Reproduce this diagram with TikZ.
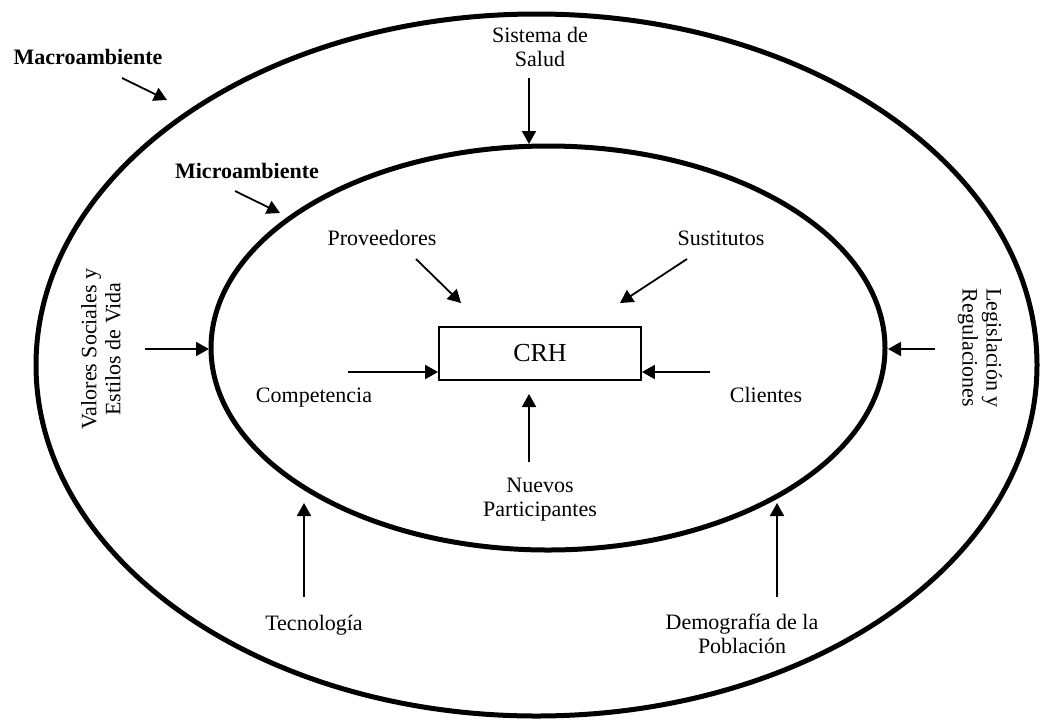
\documentclass[tikz,border=0pt]{standalone}
\usepackage{fontspec}
\setmainfont{Liberation Serif}
\usetikzlibrary{arrows.meta}
\begin{document}
\begin{tikzpicture}[x=1pt,y=-1pt,
  lbl/.style={font=\fontsize{22}{24}\selectfont, align=center, inner sep=0pt},
  boldlbl/.style={font=\fontsize{22}{24}\selectfont\bfseries, inner sep=0pt},
  arr/.style={line width=1.8pt, -{Triangle[length=13pt,width=14pt]}},
  ring/.style={line width=5pt},
  crhbox/.style={draw, line width=1.8pt, minimum width=202pt, minimum height=53pt, inner sep=0pt, font=\fontsize{26}{30}\selectfont}]
\useasboundingbox (0,0) rectangle (1041,724);
% ellipses
\draw[ring] (536.5,365) ellipse [x radius=500.5, y radius=351];
\draw[ring] (548,348) ellipse [x radius=337, y radius=202];
% labels (multi-line nodes: base = baseline of last line)
\node[boldlbl, anchor=base] (macro) at (88,64) {Macroambiente};
\node[boldlbl, anchor=base] (micro) at (247,178) {Microambiente};
\node[lbl, anchor=base] (salud) at (540,66) {Sistema de\\Salud};
\node[lbl, anchor=base] (prov) at (382,245) {Proveedores};
\node[lbl, anchor=base] (sust) at (721,245) {Sustitutos};
\node[lbl, anchor=base] (comp) at (314,402) {Competencia};
\node[lbl, anchor=base] (cli) at (766,402) {Clientes};
\node[crhbox] (crh) at (540,353.5) {CRH};
\node[lbl, anchor=base] (nuevos) at (540,516) {Nuevos\\Participantes};
\node[lbl, rotate=90] (valores) at (101,349) {Valores Sociales y\\Estilos de Vida};
\node[lbl, rotate=-90] (legis) at (980,348) {Legislación y\\Regulaciones};
\node[lbl, anchor=base] (tecno) at (314,630) {Tecnología};
\node[lbl, anchor=base] (demo) at (742,653) {Demografía de la\\Población};
% arrow end points
\coordinate (macroT) at (122,78);   \coordinate (macroH) at (167,100);
\coordinate (microT) at (235,191);  \coordinate (microH) at (280,213);
\coordinate (saludT) at (529,78);   \coordinate (saludH) at (529,144);
\coordinate (provT) at (416,259);   \coordinate (provH) at (461,303);
\coordinate (sustT) at (687,259);   \coordinate (sustH) at (620,303);
\coordinate (compT) at (348,372);
\coordinate (cliT) at (710,372);
\coordinate (nuevosT) at (529,462); \coordinate (nuevosH) at (529,394);
\coordinate (valT) at (145,349);    \coordinate (valH) at (209,349);
\coordinate (legT) at (935,349);    \coordinate (legH) at (888,349);
\coordinate (tecT) at (304,597);    \coordinate (tecH) at (304,503);
\coordinate (demT) at (777,597);    \coordinate (demH) at (777,503);
% arrows
\draw[arr] (macroT) -- (macroH);
\draw[arr] (microT) -- (microH);
\draw[arr] (saludT) -- (saludH);
\draw[arr] (provT) -- (provH);
\draw[arr] (sustT) -- (sustH);
\draw[arr] (compT) -- (compT -| crh.west);
\draw[arr] (cliT) -- (cliT -| crh.east);
\draw[arr] (nuevosT) -- (nuevosH);
\draw[arr] (valT) -- (valH);
\draw[arr] (legT) -- (legH);
\draw[arr] (tecT) -- (tecH);
\draw[arr] (demT) -- (demH);
\end{tikzpicture}
\end{document}
